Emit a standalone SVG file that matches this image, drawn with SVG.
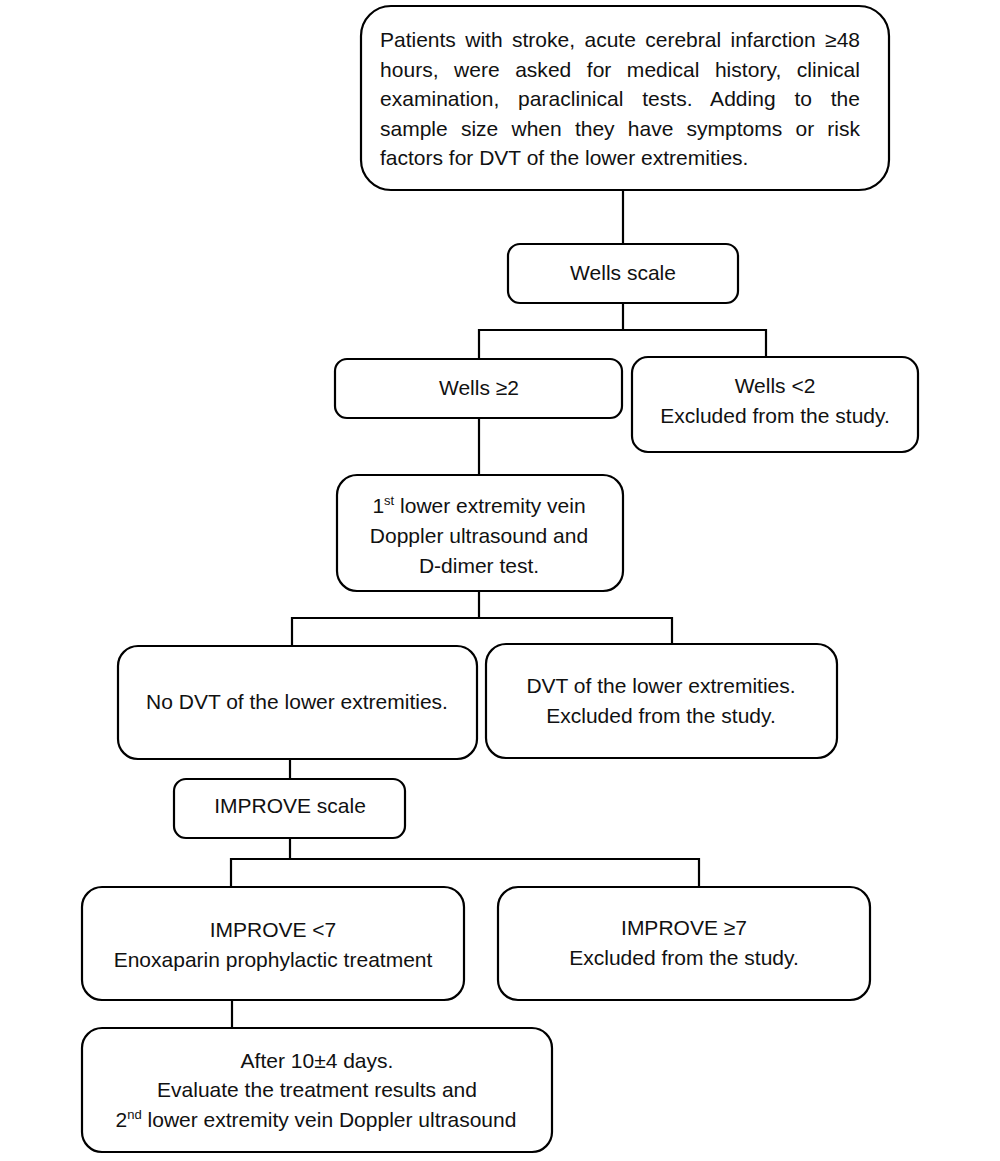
<svg xmlns="http://www.w3.org/2000/svg" width="1000" height="1161" viewBox="0 0 1000 1161">
<style>
.box{fill:#fff;stroke:#000;stroke-width:2.2}
.ln{fill:none;stroke:#000;stroke-width:2.2}
text{font-family:"Liberation Sans",Arial,sans-serif;font-size:21px;fill:#111}
.c{text-anchor:middle}
.sup{font-size:13px}
</style>
<rect width="1000" height="1161" fill="#fff"/>
<g id="connectors">
<path class="ln" d="M623,190V244"/>
<path class="ln" d="M623,303V330M479,359V330H766V357"/>
<path class="ln" d="M479,418V475"/>
<path class="ln" d="M479,591V618M292,646V618H672V644"/>
<path class="ln" d="M290,759V779"/>
<path class="ln" d="M290,838V859M231,887V859H699V887"/>
<path class="ln" d="M232,1000V1028"/>
</g>
<g id="n1">
<rect class="box" x="361" y="6" width="528" height="184" rx="30"/>
<text x="380" y="47" word-spacing="3.6" textLength="480" lengthAdjust="spacing">Patients with stroke, acute cerebral infarction ≥48</text>
<text x="380" y="77" word-spacing="9.6" textLength="480" lengthAdjust="spacing">hours, were asked for medical history, clinical</text>
<text x="380" y="106" word-spacing="12.9" textLength="480" lengthAdjust="spacing">examination, paraclinical tests. Adding to the</text>
<text x="380" y="136" word-spacing="7.4" textLength="480" lengthAdjust="spacing">sample size when they have symptoms or risk</text>
<text x="380" y="165">factors for DVT of the lower extremities.</text>
</g>
<g id="n2">
<rect class="box" x="508" y="244" width="230" height="59" rx="12"/>
<text class="c" x="623" y="280">Wells scale</text>
</g>
<g id="n3">
<rect class="box" x="335" y="359" width="287" height="59" rx="12"/>
<text class="c" x="479" y="395">Wells ≥2</text>
</g>
<g id="n4">
<rect class="box" x="632" y="357" width="286" height="95" rx="16"/>
<text class="c" x="775" y="393">Wells &lt;2</text>
<text class="c" x="775" y="423">Excluded from the study.</text>
</g>
<g id="n5">
<rect class="box" x="337" y="475" width="286" height="116" rx="20"/>
<text class="c" x="479" y="513">1<tspan class="sup" dy="-8">st</tspan><tspan dy="8"> lower extremity vein</tspan></text>
<text class="c" x="479" y="543">Doppler ultrasound and</text>
<text class="c" x="479" y="573">D-dimer test.</text>
</g>
<g id="n6">
<rect class="box" x="118" y="646" width="359" height="113" rx="20"/>
<text class="c" x="297" y="709">No DVT of the lower extremities.</text>
</g>
<g id="n7">
<rect class="box" x="486" y="644" width="351" height="114" rx="20"/>
<text class="c" x="661" y="693">DVT of the lower extremities.</text>
<text class="c" x="661" y="723">Excluded from the study.</text>
</g>
<g id="n8">
<rect class="box" x="174" y="779" width="231" height="59" rx="12"/>
<text class="c" x="290" y="813">IMPROVE scale</text>
</g>
<g id="n9">
<rect class="box" x="82" y="887" width="382" height="113" rx="20"/>
<text class="c" x="273" y="937">IMPROVE &lt;7</text>
<text class="c" x="273" y="967">Enoxaparin prophylactic treatment</text>
</g>
<g id="n10">
<rect class="box" x="498" y="887" width="372" height="113" rx="20"/>
<text class="c" x="684" y="935">IMPROVE ≥7</text>
<text class="c" x="684" y="965">Excluded from the study.</text>
</g>
<g id="n11">
<rect class="box" x="82" y="1028" width="470" height="124" rx="20"/>
<text class="c" x="317" y="1068">After 10±4 days.</text>
<text class="c" x="317" y="1097">Evaluate the treatment results and</text>
<text class="c" x="316" y="1127">2<tspan class="sup" dy="-8">nd</tspan><tspan dy="8"> lower extremity vein Doppler ultrasound</tspan></text>
</g>
</svg>
